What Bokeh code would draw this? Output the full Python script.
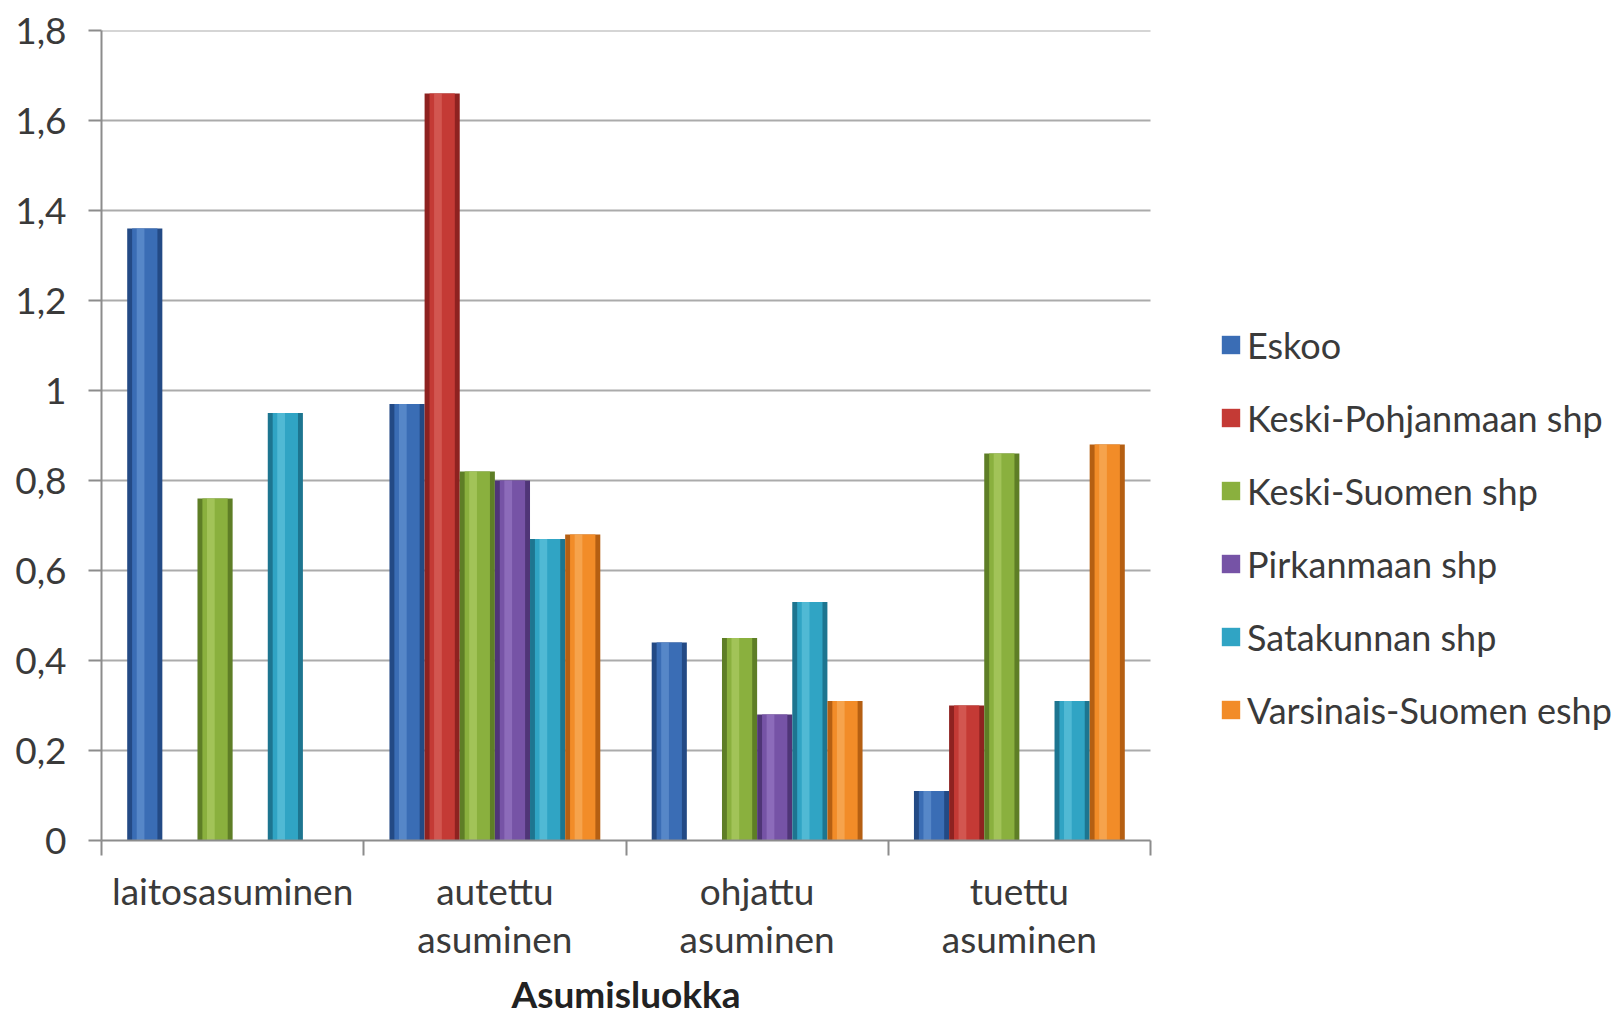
import math
from bokeh.plotting import figure
from bokeh.models import (ColumnDataSource, Range1d, FixedTicker, Legend, LegendItem, Title)
from bokeh.embed import file_html
from bokeh.resources import INLINE

nan = float("nan")

# ---- data ----
categories = ["laitosasuminen", "autettu\nasuminen", "ohjattu\nasuminen", "tuettu\nasuminen"]
series_names = ["Eskoo", "Keski-Pohjanmaan shp", "Keski-Suomen shp",
                "Pirkanmaan shp", "Satakunnan shp", "Varsinais-Suomen eshp"]
eskoo = [1.36, 0.97, 0.44, 0.11]
keski_pohjanmaa = [nan, 1.66, nan, 0.30]
keski_suomi = [0.76, 0.82, 0.45, 0.86]
pirkanmaa = [nan, 0.80, 0.28, nan]
satakunta = [0.95, 0.67, 0.53, 0.31]
varsinais_suomi = [nan, 0.68, 0.31, 0.88]
y_ticks = [0, 0.2, 0.4, 0.6, 0.8, 1.0, 1.2, 1.4, 1.6, 1.8]
y_tick_labels = ["0", "0,2", "0,4", "0,6", "0,8", "1", "1,2", "1,4", "1,6", "1,8"]
x_title = "Asumisluokka"

all_series = [eskoo, keski_pohjanmaa, keski_suomi, pirkanmaa, satakunta, varsinais_suomi]

main_colors = ["#3A6DB5", "#C43A35", "#8AB03E", "#7653A6", "#30A4C4", "#F28C28"]
dark_colors = ["#234A85", "#8E2220", "#5E7E26", "#4F3577", "#1D7590", "#B55F12"]
light_colors = ["#7AA6E0", "#E47A72", "#BEDC78", "#A88AD2", "#78D2E8", "#FBBE78"]

FONT = "Lato"
TXT = "#3a3a3a"
FS = "37px"
W, H = 1620, 1019
FL, FT, FB = 101, 30, 842
PLOT_RIGHT = 1150          # pixel where the category area ends
ncat = len(categories)
# frame spans to the right edge; the category area occupies [0, ncat]
x_max = ncat * (W - FL) / (PLOT_RIGHT - FL)

p = figure(width=W, height=H, output_backend="svg", toolbar_location=None,
           x_range=Range1d(0, x_max), y_range=Range1d(0, 1.8),
           min_border_left=FL, min_border_right=0,
           min_border_top=FT, min_border_bottom=H - FB)
p.outline_line_color = None
p.background_fill_color = "white"
p.border_fill_color = "white"

# grid (limited to the category area)
p.xgrid.grid_line_color = None
p.ygrid.grid_line_color = None
p.segment(x0=[0] * (len(y_ticks) - 1), x1=[ncat] * (len(y_ticks) - 1),
          y0=y_ticks[1:], y1=y_ticks[1:], line_color="#ABABAB", line_width=2)

bw = 0.134
n = len(series_names)
items = []
for j, (name, vals) in enumerate(zip(series_names, all_series)):
    xs, tops = [], []
    for i, v in enumerate(vals):
        if not math.isnan(v):
            xs.append(i + 0.5 + (j - (n - 1) / 2) * bw)
            tops.append(v)
    src = ColumnDataSource(dict(x=xs, top=tops, xh=[x - bw * 0.12 for x in xs]))
    p.vbar(x="x", top="top", width=bw, bottom=0, source=src,
           fill_color=dark_colors[j], line_color=None)
    r = p.vbar(x="x", top="top", width=bw * 0.72, bottom=0, source=src,
               fill_color=main_colors[j], line_color=None)
    p.vbar(x="xh", top="top", width=bw * 0.22, bottom=0, source=src,
           fill_color=light_colors[j], fill_alpha=0.45, line_color=None)
    items.append(LegendItem(label=name, renderers=[r]))

# y axis
p.yaxis.ticker = FixedTicker(ticks=y_ticks, minor_ticks=[])
p.yaxis.major_label_overrides = {t: l for t, l in zip(y_ticks, y_tick_labels)}
p.yaxis.axis_line_color = "#8C8C8C"
p.yaxis.axis_line_width = 2
p.yaxis.major_tick_line_color = "#8C8C8C"
p.yaxis.major_tick_line_width = 2
p.yaxis.major_tick_out = 13
p.yaxis.major_tick_in = 0
p.yaxis.major_label_standoff = 22
p.yaxis.major_label_text_font = FONT
p.yaxis.major_label_text_font_size = FS
p.yaxis.major_label_text_color = TXT

# x axis
centers = [i + 0.5 for i in range(ncat)]
bounds = list(range(ncat + 1))
p.xaxis.bounds = (0, ncat)
p.xaxis.ticker = FixedTicker(ticks=centers, minor_ticks=bounds)
p.xaxis.major_label_overrides = {c: l for c, l in zip(centers, categories)}
p.xaxis.axis_line_color = "#8C8C8C"
p.xaxis.axis_line_width = 2
p.xaxis.major_tick_out = 0
p.xaxis.major_tick_in = 0
p.xaxis.minor_tick_out = 15
p.xaxis.minor_tick_in = 0
p.xaxis.minor_tick_line_color = "#8C8C8C"
p.xaxis.minor_tick_line_width = 2
p.xaxis.major_label_standoff = 12
p.xaxis.major_label_text_font = FONT
p.xaxis.major_label_text_font_size = FS
p.xaxis.major_label_text_color = TXT
p.xaxis.major_label_text_line_height = 1.08

# axis title, centred under the category area
p.add_layout(Title(text=x_title, align="left", offset=410, standoff=8,
                   text_font=FONT, text_font_style="bold", text_font_size=FS,
                   text_color="#222222"), "below")

legend = Legend(items=items, location=(PLOT_RIGHT - FL + 69, 94), orientation="vertical",
                padding=0, spacing=0, margin=0,
                label_height=73, glyph_height=23, glyph_width=23,
                label_standoff=5,
                label_text_font=FONT, label_text_font_size="36px",
                label_text_color=TXT, label_text_baseline="middle",
                border_line_color=None, background_fill_alpha=0)
p.add_layout(legend, "center")

open("out.html", "w").write(file_html(p, INLINE))
